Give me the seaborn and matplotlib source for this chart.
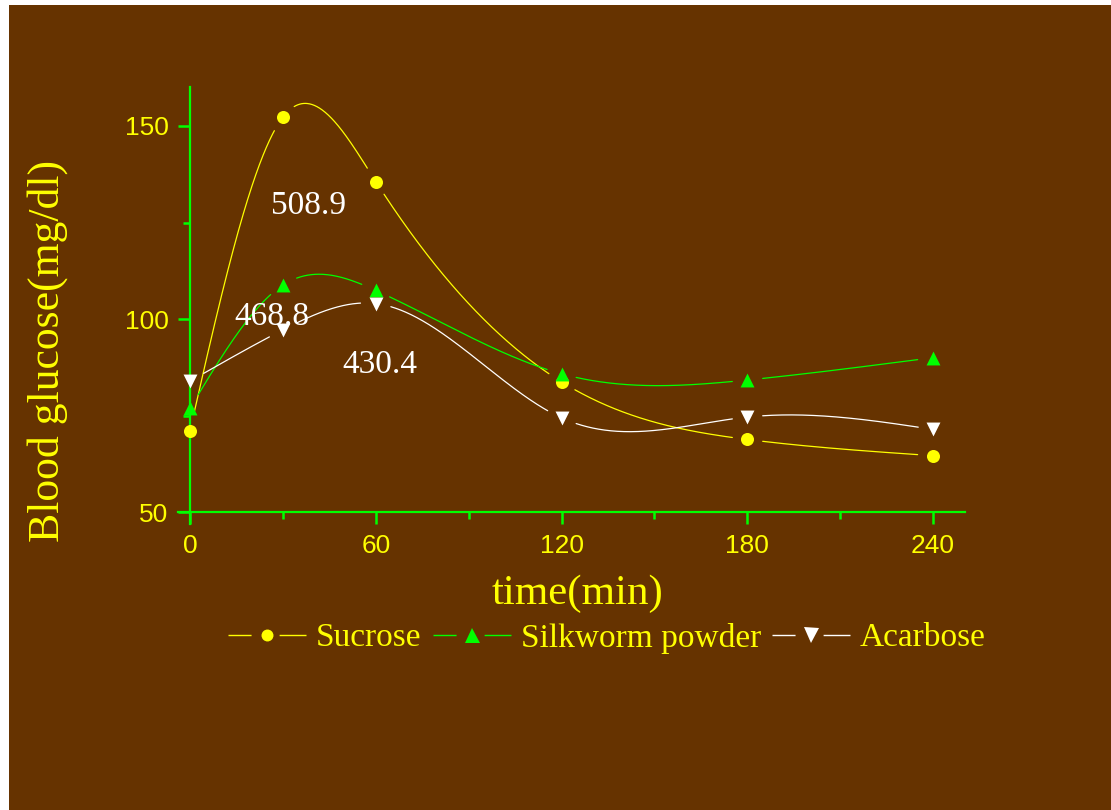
import numpy as np
import matplotlib
matplotlib.use("Agg")
import matplotlib.pyplot as plt
import seaborn as sns
from matplotlib.lines import Line2D
from matplotlib.patches import Rectangle
from matplotlib.ticker import MultipleLocator

# data
time_min = [0, 30, 60, 120, 180, 240]
sucrose = [71.1, 152.3, 135.6, 83.7, 68.8, 64.6]
silkworm = [76.9, 108.8, 107.4, 85.8, 84.2, 90.0]
acarbose = [83.9, 97.2, 104.0, 74.4, 74.6, 71.4]
series_names = ["Sucrose", "Silkworm powder", "Acarbose"]
auc_labels = ["508.9", "468.8", "430.4"]

BROWN = "#663300"
YELLOW = "#ffff00"
GREEN = "#00ff00"
WHITE = "#ffffff"

sns.set_style("ticks")
plt.rcParams["font.family"] = ["Liberation Serif", "DejaVu Serif"]


def natural_spline(x, y, xs):
    # plain natural cubic spline, like the "spline" connection in the original plot
    x = np.asarray(x, float)
    y = np.asarray(y, float)
    n = len(x)
    h = np.diff(x)
    A = np.zeros((n, n))
    r = np.zeros(n)
    A[0, 0] = A[-1, -1] = 1
    for i in range(1, n - 1):
        A[i, i - 1] = h[i - 1]
        A[i, i] = 2 * (h[i - 1] + h[i])
        A[i, i + 1] = h[i]
        r[i] = 3 * ((y[i + 1] - y[i]) / h[i] - (y[i] - y[i - 1]) / h[i - 1])
    c = np.linalg.solve(A, r)
    b = (y[1:] - y[:-1]) / h - h * (2 * c[:-1] + c[1:]) / 3
    d = (c[1:] - c[:-1]) / (3 * h)
    idx = np.clip(np.searchsorted(x, xs) - 1, 0, n - 2)
    dx = xs - x[idx]
    return y[idx] + b[idx] * dx + c[idx] * dx ** 2 + d[idx] * dx ** 3


W, H = 1111, 810
fig = plt.figure(figsize=(W / 100, H / 100), dpi=100)
fig.patch.set_facecolor("white")
fig.patches.append(Rectangle((9 / W, 0), 1 - 9 / W, 1 - 5 / H, transform=fig.transFigure,
                             facecolor=BROWN, edgecolor="none", zorder=-10))

ax = fig.add_axes([178 / W, 1 - 524 / H, (965 - 178) / W, (524 - 87) / H])
ax.set_facecolor("none")
ax.set_xlim(-3.9, 250.3)
ax.set_ylim(46.9, 160.1)

for s in ["top", "right"]:
    ax.spines[s].set_visible(False)
ax.spines["left"].set_position(("data", 0))
ax.spines["bottom"].set_position(("data", 50))
for s in ["left", "bottom"]:
    ax.spines[s].set_color(GREEN)
    ax.spines[s].set_linewidth(1.6)

ax.xaxis.set_major_locator(MultipleLocator(60))
ax.xaxis.set_minor_locator(MultipleLocator(30))
ax.yaxis.set_major_locator(MultipleLocator(50))
ax.yaxis.set_minor_locator(MultipleLocator(25))
ax.tick_params(which="both", direction="out", color=GREEN, width=1.8,
               labelcolor=YELLOW, labelsize=19, pad=7)
ax.tick_params(which="major", length=8.6)
ax.tick_params(which="minor", length=4.8)
for lab in ax.get_xticklabels() + ax.get_yticklabels():
    lab.set_family("Liberation Sans")

series = [
    (sucrose, YELLOW, "o", 88),
    (silkworm, GREEN, "^", 100),
    (acarbose, WHITE, "v", 100),
]

xs = np.linspace(0, 240, 1200)
for vals, col, mk, size in series:
    ys = natural_spline(time_min, vals, xs)
    # leave a small gap around each marker, as in the original
    curve_px = ax.transData.transform(np.column_stack([xs, ys]))
    mk_px = ax.transData.transform(np.column_stack([time_min, vals]))
    dist = np.min(np.hypot(curve_px[:, None, 0] - mk_px[None, :, 0],
                           curve_px[:, None, 1] - mk_px[None, :, 1]), axis=1)
    ys = np.where(dist < 15, np.nan, ys)
    ax.plot(xs, ys, color=col, lw=0.9, zorder=2)
    sns.scatterplot(x=time_min, y=vals, marker=mk, s=size, color=col,
                    linewidth=0, ax=ax, zorder=3, legend=False)

# area-under-curve values
auc_pos = [(38.1, 127.2), (26.5, 98.4), (61.4, 86.0)]
for (tx, ty), lab in zip(auc_pos, auc_labels):
    ax.text(tx, ty, lab, color=WHITE, fontsize=24, ha="center", va="baseline", zorder=4)

ax.set_xlabel("time(min)", color=YELLOW, fontsize=31)
ax.xaxis.label.set(va="center", ha="center")
ax.xaxis.set_label_coords((577 - 178) / 787, (524 - 594) / 437)
ax.set_ylabel("Blood glucose(mg/dl)", color=YELLOW, fontsize=31.5)
ax.yaxis.label.set(va="center", ha="center", rotation_mode="anchor")
ax.yaxis.set_label_coords((48 - 178) / 787, (524 - 351) / 437)

# legend: line - marker - line with gaps round the marker
handles = []
for vals, col, mk, size in series:
    line = Line2D([], [], color=col, lw=1, linestyle=(0, (16.6, 20.2, 19.4, 0)))
    msz = 8.6 if mk == "o" else 10.8
    dot = Line2D([], [], color=col, marker=mk, markersize=msz, linestyle="none",
                 markeredgewidth=0)
    handles.append((line, dot))
fig.legend(handles, series_names, loc="center", bbox_to_anchor=(607 / W, 1 - 638 / H),
           ncol=3, frameon=False, fontsize=24, labelcolor=YELLOW,
           handlelength=2.34, handletextpad=0.3, columnspacing=0.33, borderpad=0)

fig.savefig("out.png", dpi=100, facecolor=fig.get_facecolor())
